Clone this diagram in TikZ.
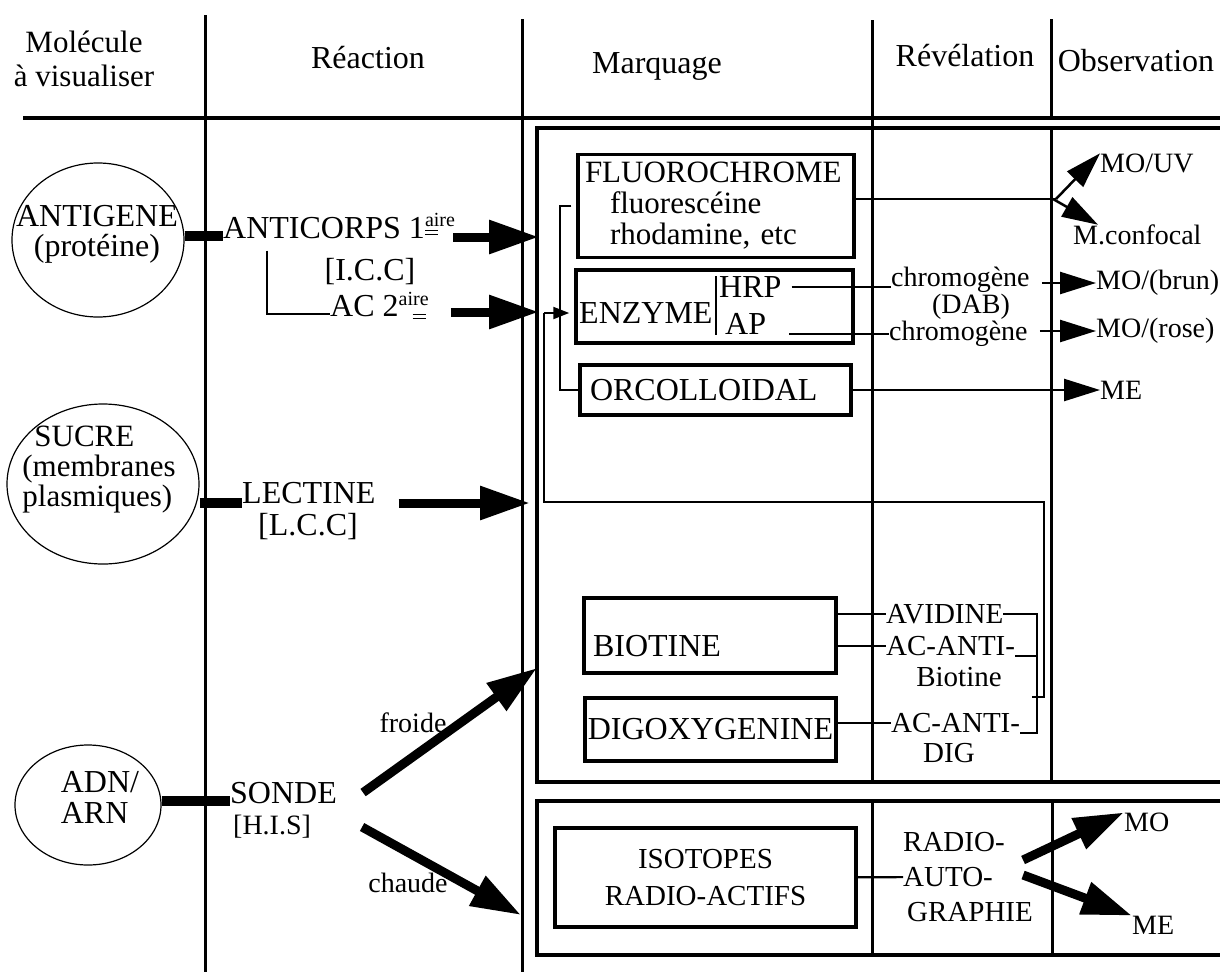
\documentclass[tikz,border=0pt]{standalone}
\usepackage{fontspec}
\setmainfont{Liberation Serif}
\usetikzlibrary{arrows.meta,shapes.geometric,calc}

\newcommand{\dblrule}[1]{\rlap{\raisebox{#1}{\rule{13pt}{1.3pt}}}\rlap{\raisebox{\dimexpr#1+4pt\relax}{\rule{13pt}{1.3pt}}}}
\newcommand{\aireA}{\dblrule{3pt}\raisebox{12pt}{\fontsize{20}{20}\selectfont aire}}
\newcommand{\aireB}{\raisebox{11pt}{\fontsize{20}{20}\selectfont aire}\llap{\dblrule{-3pt}\kern16pt}}

\tikzset{
  txt/.style={inner sep=0pt, font=\fontsize{32}{30}\selectfont},
  midtxt/.style={inner sep=0pt, font=\fontsize{29}{29}\selectfont},
  smalltxt/.style={inner sep=0pt, font=\fontsize{28}{28}\selectfont},
  obstxt/.style={inner sep=0pt, font=\fontsize{28}{28}\selectfont},
  molecule/.style={draw, ellipse, line width=1.2pt, inner sep=0pt},
  labelbox/.style={draw, line width=3.5pt, inner sep=0pt, font=\fontsize{32}{28}\selectfont},
  column/.style={line width=3pt},
  bar/.style={line width=10pt},
  link/.style={line width=2.2pt},
  bigarrow/.style={line width=9pt, -{Triangle[length=50pt,width=32pt]}},
  thinarrow/.style={line width=2.5pt, -{Triangle[length=36pt,width=22pt]}},
  tinyarrow/.style={line width=2pt, -{Triangle[length=16pt,width=12pt]}}
}

\begin{document}
\begin{tikzpicture}[x=1pt,y=-1pt]
\useasboundingbox (0,0) rectangle (1220,972);

% header
\node[txt, align=center, font=\fontsize{31}{34}\selectfont] (hmolecule) at (84,59) {Molécule\\à visualiser};
\node[txt] (hreaction) at (368,58) {Réaction};
\node[txt] (hmarquage) at (657,66) {Marquage};
\node[txt] (hrevelation) at (965,56) {Révélation};
\node[txt] (hobservation) at (1136,61) {Observation};
\draw[line width=4pt] (23,118) -- (1220,118);
\draw[column] (205,15) -- (205,972);
\draw[column] (522,19) -- (522,972);
\draw[column] (872,20) -- (872,782);
\draw[column] (1051,19) -- (1051,118);
\draw[column] (1051,128) -- (1051,782);
\draw[line width=3.5pt] (1220,128) -| (537,782) -- (1220,782);
\draw[line width=3.5pt] (1220,801) -| (537,955) -- (1220,955);
\draw[column] (872,801) -- (872,955);
\draw[column] (1052,801) -- (1052,955);

% molecules
\node[molecule, minimum width=172pt, minimum height=154pt] (antigene) at (98,240) {};
\node[txt, align=center] (antigenetxt) at (97,234) {ANTIGENE\\(protéine)};
\node[molecule, minimum width=192pt, minimum height=160pt] (sucre) at (103,484) {};
\node[txt, align=left, font=\fontsize{31}{30}\selectfont] (sucretxt) at (99,470) {\hspace*{12pt}SUCRE\\(membranes\\plasmiques)};
\node[molecule, minimum width=146pt, minimum height=120pt] (adn) at (88,805) {};
\node[txt, align=left, font=\fontsize{32}{31}\selectfont] (adntxt) at (100,797) {ADN/\\ARN};

% reaction
\node[txt, anchor=base west] (anticorps) at (223,238) {ANTICORPS 1\aireA};
\node[txt] (icc) at (370,272) {[I.C.C]};
\node[txt, anchor=base west] (acdeux) at (330,316) {AC 2\aireB};
\node[txt, anchor=base west] (lectine) at (242,503) {LECTINE};
\node[txt] (lcc) at (308,527) {[L.C.C]};
\node[txt, anchor=base west] (sonde) at (230,803) {SONDE};
\node[smalltxt, anchor=west] (his) at (233,827) {[H.I.S]};
\node[smalltxt] (froide) at (413,723) {froide};
\node[smalltxt] (chaude) at (408,883) {chaude};

\draw[bar] (antigene.east |- anticorps.mid west) -- (anticorps.mid west);
\draw[bar] (sucre.east |- lectine.base west) -- (lectine.base west);
\draw[bar] (adn.east |- sonde.mid west) -- (sonde.mid west);
\draw[link] ([shift={(44,12)}]anticorps.south west) |- (acdeux.mid west);

\coordinate (mqin1) at (539,237);
\coordinate (mqin2) at (539,312);
\coordinate (mqin3) at (530,503);
\coordinate (mqin4) at (537,668);
\coordinate (colin5) at (521,915);
\draw[bigarrow] ($(anticorps.east |- mqin1)+(-2,0)$) -- (mqin1);
\draw[bigarrow] ($(acdeux.east |- mqin2)+(22,0)$) -- (mqin2);
\draw[bigarrow] ($(lectine.east |- mqin3)+(23,0)$) -- (mqin3);
\draw[bigarrow] ($(sonde.east)+(26,0)$) -- (mqin4);
\draw[bigarrow] ($(sonde.east |- his.west)+(25,0)$) -- (colin5);

% marquage
\node[labelbox, minimum width=276pt, minimum height=103pt, text width=262pt, align=left, font=\fontsize{31}{31}\selectfont] (fluoro) at (716,206) {FLUOROCHROME\\\hspace*{25pt}fluorescéine\\\hspace*{25pt}rhodamine, etc};
\node[labelbox, minimum width=277pt, minimum height=73pt] (enzyme) at (714.5,306.5) {};
\node[txt, anchor=west] (enzymetxt) at (579,313) {ENZYME};
\node[txt, anchor=west] (hrp) at (719,287) {HRP};
\node[txt, anchor=west] (ap) at (725,324) {AP};
\draw[link] ($(enzymetxt.east |- hrp.north)+(3,0)$) -- ($(enzymetxt.east |- ap.south)+(3,0)$);
\node[labelbox, minimum width=271pt, minimum height=50pt, text width=251pt, inner xsep=10pt, align=left] (orco) at (715.5,390) {ORCOLLOIDAL};
\node[labelbox, minimum width=252pt, minimum height=75pt, text width=234pt, text height=42pt, inner xsep=9pt, align=left] (biotine) at (710,635.5) {BIOTINE};
\node[labelbox, minimum width=251pt, minimum height=63pt] (digoxy) at (710.5,729.5) {DIGOXYGENINE};

\coordinate (brk) at (560,300);
\coordinate (brkin) at (544,313);
\coordinate (longturn) at (1044,502);
\coordinate (longend) at (1032,697);
\draw[link] ([xshift=-5pt]fluoro.west) -| (brk) |- (orco.west);
\draw[tinyarrow] (brkin) -- ($(enzyme.west |- brkin)+(-5,0)$);
\draw[link] (brkin) |- (longturn) |- (longend);

% revelation
\node[smalltxt, anchor=west] (chromoa) at (891,280) {chromogène};
\node[txt, font=\fontsize{28}{28}\selectfont] (dab) at (971,307) {(DAB)};
\node[smalltxt, anchor=west] (chromob) at (889,334) {chromogène};
\node[midtxt, anchor=west] (avidine) at (886,614) {AVIDINE};
\node[midtxt, anchor=west] (acbio) at (886,646) {AC-ANTI-};
\node[midtxt] (biotxt) at (959,677) {Biotine};
\node[midtxt, anchor=west] (acdig) at (891,723) {AC-ANTI-};
\node[midtxt] (digtxt) at (949,753) {DIG};
\coordinate (avbrk) at (1037,670);

\draw[link] ([xshift=10pt]hrp.east) -- (hrp.east -| chromoa.west);
\draw[link] ([xshift=23pt]ap.east |- chromob.west) -- (chromob.west);
\draw[link] (biotine.east |- avidine) -- (avidine);
\draw[link] (biotine.east |- acbio) -- (acbio);
\draw[link] (digoxy.east |- acdig) -- (acdig);
\draw[link] (avidine.east) -| (avbrk) |- (acdig.south east);
\draw[link] (acbio.south east) -- (acbio.south east -| avbrk);

% observation
\node[obstxt, anchor=west] (mouv) at (1100,163) {MO/UV};
\node[obstxt, anchor=west] (confocal) at (1073,235) {M.confocal};
\node[obstxt, anchor=west] (mobrun) at (1096,283) {MO/(brun)};
\node[obstxt, anchor=west] (morose) at (1096,331) {MO/(rose)};
\node[obstxt, anchor=west] (meorco) at (1100,390) {ME};
\coordinate (split) at (1056,199);
\draw[link] (fluoro.east |- split) -- (split);
\draw[thinarrow] (split) -- (mouv.north west);
\draw[thinarrow] ([xshift=-3pt]split) -- ([xshift=25pt]confocal.north west);
\draw[thinarrow] ([xshift=12pt]chromoa.east |- mobrun.west) -- (mobrun.west);
\draw[thinarrow] ([xshift=12pt]chromob.east |- morose.west) -- (morose.west);
\draw[thinarrow] (orco) -- (meorco);

% radioactive probe
\node[labelbox, minimum width=301pt, minimum height=99pt, align=center, font=\fontsize{29}{37}\selectfont] (isotopes) at (705.5,877.5) {ISOTOPES\\RADIO-ACTIFS};
\node[txt, align=left, font=\fontsize{29}{35}\selectfont, anchor=west] (radio) at (903,877) {RADIO-\\AUTO-\\\hspace*{4pt}GRAPHIE};
\node[obstxt, anchor=west] (molow) at (1124,822) {MO};
\node[obstxt, anchor=west] (melow) at (1132,925) {ME};
\draw[link] (isotopes) -- (radio);
\draw[bigarrow] ([shift={(-10,-17)}]radio.east) -- (molow.north west);
\draw[bigarrow] ([shift={(-10,-2)}]radio.east) -- (melow.north west);
\end{tikzpicture}
\end{document}
